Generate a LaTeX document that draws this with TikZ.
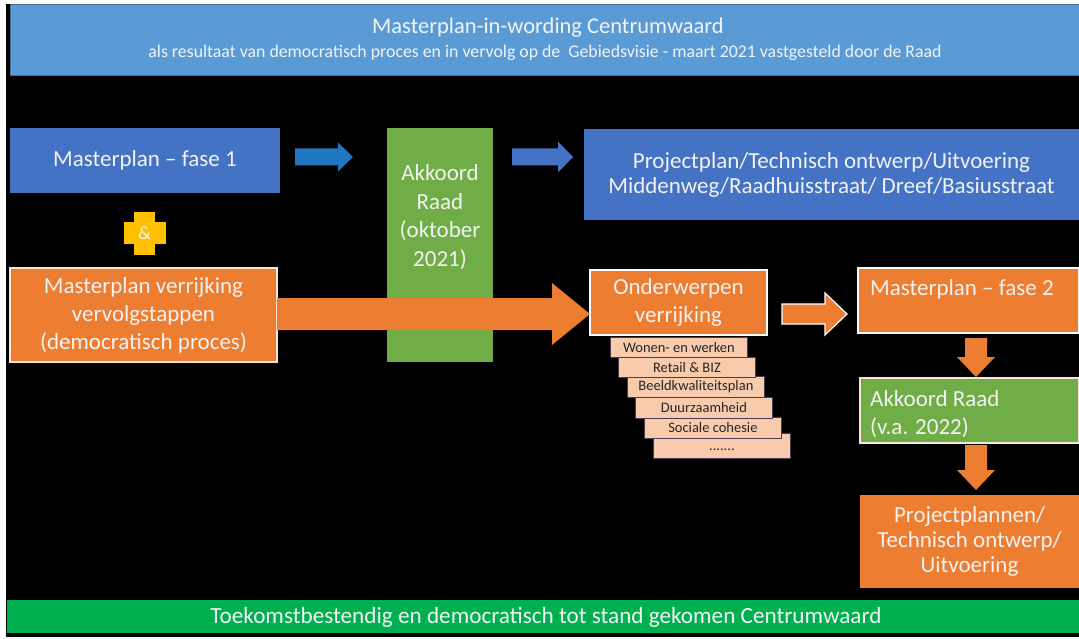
\documentclass[tikz,border=0pt]{standalone}
\usepackage{fontspec}
\setmainfont{Carlito}
\usetikzlibrary{calc}
\definecolor{bannerblue}{HTML}{5B9BD5}
\definecolor{boxblue}{HTML}{4472C4}
\definecolor{arrowblue}{HTML}{1F78C1}
\definecolor{orng}{HTML}{ED7D31}
\definecolor{grn}{HTML}{70AD47}
\definecolor{barGreen}{HTML}{00B050}
\definecolor{ylw}{HTML}{FFC000}
\definecolor{peach}{HTML}{F8CBAD}
\definecolor{peachline}{HTML}{4A3A55}
\definecolor{txt}{HTML}{F2F2F2}
\definecolor{lightline}{HTML}{FBE5D6}
\newcommand\harrow[6]{\path[#1] ($(#2)+(0,-#4)$) -- ($(#3)+(-#6,-#4)$) -- ($(#3)+(-#6,-#5)$) -- (#3) -- ($(#3)+(-#6,#5)$) -- ($(#3)+(-#6,#4)$) -- ($(#2)+(0,#4)$) -- cycle;}
\newcommand\varrow[6]{\path[#1] ($(#2)+(-#4,0)$) -- ($(#3)+(-#4,-#6)$) -- ($(#3)+(-#5,-#6)$) -- (#3) -- ($(#3)+(#5,-#6)$) -- ($(#3)+(#4,-#6)$) -- ($(#2)+(#4,0)$) -- cycle;}
\tikzset{
  blk/.style={rectangle, anchor=north west, inner sep=0pt, outer sep=0pt, align=center, text=txt,
     font=\fontsize{23}{28}\selectfont},
  peachbox/.style={rectangle, anchor=north west, inner sep=0pt, minimum width=137pt, fill=peach,
     draw=peachline, line width=0.8pt, text=black!85, font=\fontsize{14.5}{16}\selectfont},
  lbl/.style={text=txt, inner sep=0pt, font=\fontsize{23}{28}\selectfont},
}
\begin{document}
\begin{tikzpicture}[x=1pt,y=-1pt]
\useasboundingbox (0,0) rectangle (1079,639);
\fill[white] (0,0) rectangle (1079,639);
\fill[black] (6,4) rectangle (1079,637);
% banner
\node[blk, fill=bannerblue, draw=bannerblue!70!black, line width=0.6pt, minimum width=1069pt, minimum height=71pt] (banner) at (10,4) {};
\node[lbl, font=\fontsize{22.5}{26}\selectfont] (title) at (548,28) {Masterplan-in-wording Centrumwaard};
\node[lbl, font=\fontsize{17.8}{20}\selectfont] (sub) at (545,53) {als resultaat van democratisch\ proces en in vervolg op de\ \ Gebiedsvisie - maart 2021 vastgesteld door de Raad};
% left column
\node[blk, fill=boxblue, minimum width=270pt, minimum height=65pt] (mp1) at (10,128) {Masterplan – fase 1};
\coordinate (pc) at (144.5,233.5);
\fill[ylw] ($(pc)+(-10.5,-21.5)$) rectangle ($(pc)+(10.5,21.5)$);
\fill[ylw] ($(pc)+(-21,-11)$) rectangle ($(pc)+(21,11)$);
\node[lbl, font=\fontsize{19}{22}\selectfont] (amp) at (pc) {\&};
\node[blk, fill=orng, draw=lightline, line width=1.2pt, minimum width=267pt, minimum height=94pt] (mvv) at (10,268) {Masterplan verrijking\\vervolgstappen\\(democratisch proces)};
% middle
\node[blk, fill=grn, minimum width=106pt, minimum height=234pt] (akk) at (387,128) {};
\node[lbl, align=center, font=\fontsize{23}{28.5}\selectfont] (akktxt) at (440,217) {Akkoord\\Raad\\(oktober\\2021)};
\node[blk, fill=boxblue, minimum width=495pt, minimum height=91pt, font=\fontsize{23}{25}\selectfont] (pp) at (584,129) {Projectplan/Technisch ontwerp/Uitvoering\\Middenweg/Raadhuisstraat/ Dreef/Basiusstraat};
% arrows top row
\coordinate (a1s) at ($(mp1.east)+(15,-3.5)$);
\coordinate (a1e) at ($(akk.west|-a1s)+(-34,0)$);
\harrow{fill=arrowblue}{a1s}{a1e}{8.5}{14.5}{15}
\coordinate (a2s) at ($(akk.east|-a1s)+(19,0)$);
\coordinate (a2e) at ($(pp.west|-a1s)+(-11,0)$);
\harrow{fill=boxblue}{a2s}{a2e}{8.5}{15.5}{15}
% right part
\node[blk, fill=orng, draw=white, line width=1.2pt, minimum width=177pt, minimum height=65pt] (ond) at (590,270) {Onderwerpen\\verrijking};
\coordinate (a3s) at (mvv.east|-0,314);
\coordinate (a3e) at (ond.west|-0,314);
\harrow{fill=orng}{a3s}{a3e}{16}{31}{38}
\node[peachbox, minimum height=25pt, text height=10pt, text depth=0pt] (p6) at (653,433) {.......};
\node[peachbox, minimum height=21pt] (p5) at (644,417) {Sociale cohesie};
\node[peachbox, minimum height=21pt] (p4) at (635,397) {Duurzaamheid};
\node[peachbox, minimum height=21pt] (p3) at (627,376) {Beeldkwaliteitsplan};
\node[peachbox, minimum height=20pt] (p2) at (618,357) {Retail \& BIZ};
\node[peachbox, minimum height=20pt] (p1) at (610,337) {Wonen- en werken};
\node[blk, fill=orng, draw=white, line width=1.2pt, minimum width=221pt, minimum height=65pt] (mp2) at (858,268) {};
\node[lbl, anchor=west] (mp2txt) at (870,289) {Masterplan – fase 2};
\coordinate (a4s) at ($(ond.east|-0,314)+(15,0)$);
\coordinate (a4e) at ($(mp2.west|-0,314)+(-11,0)$);
\harrow{fill=orng, draw=white, line width=1.2pt}{a4s}{a4e}{10}{21}{22}
\node[blk, fill=grn, draw=lightline, line width=1.2pt, minimum width=219pt, minimum height=65pt] (akk2) at (860,378) {};
\node[lbl, anchor=west, align=left] (akk2txt) at (870,414) {Akkoord Raad\\(v.a. 2022)};
\node[blk, fill=orng, minimum width=219pt, minimum height=93pt, font=\fontsize{23}{25}\selectfont] (ppl) at (860,495) {Projectplannen/\\Technisch ontwerp/\\Uitvoering};
\coordinate (a5s) at ($(mp2.south)+(7.5,5)$);
\coordinate (a5e) at ($(akk2.north)+(6.5,-1)$);
\varrow{fill=orng}{a5s}{a5e}{11}{19}{20}
\coordinate (a6s) at ($(akk2.south)+(6.5,2)$);
\coordinate (a6e) at ($(ppl.north)+(6.5,-5)$);
\varrow{fill=orng}{a6s}{a6e}{11}{19}{20}
% bottom bar
\node[blk, fill=barGreen, minimum width=1072pt, minimum height=33pt] (bar) at (7,600) {};
\node[lbl, font=\fontsize{23.2}{26}\selectfont] (bartxt) at (546,617) {Toekomstbestendig en democratisch tot stand gekomen Centrumwaard};
\end{tikzpicture}
\end{document}
